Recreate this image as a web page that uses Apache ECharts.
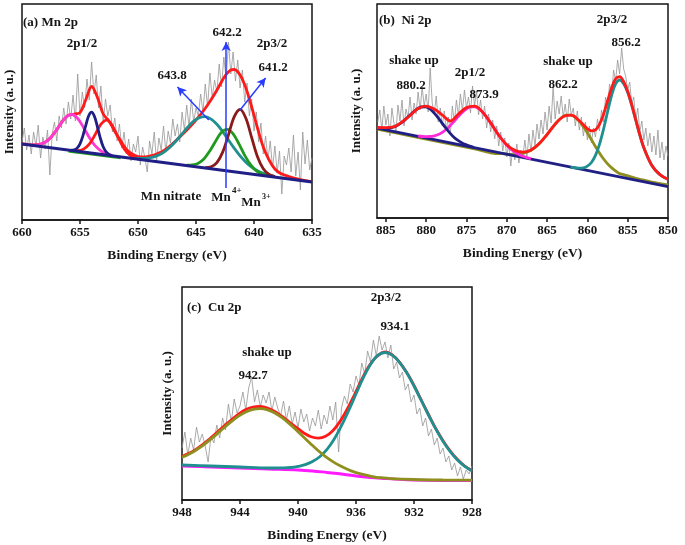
<!DOCTYPE html>
<html>
<head>
<meta charset="utf-8">
<script src="https://cdn.jsdelivr.net/npm/echarts@6.0.0/dist/echarts.min.js"></script>
<style>
html, body { margin: 0; padding: 0; background: #fff; }
#chart { width: 685px; height: 545px; }
</style>
</head>
<body>
<div id="chart"></div>
<script>
// ---- (a) Mn 2p ----  x: binding energy (eV), y: intensity (a.u., arbitrary)
const mnRawStart = 660, mnRawStep = 0.2
const mnRaw = [
  78, 92, 70, 85, 66, 88, 74, 95, 62, 83,
  71, 90, 45, 86, 98, 79, 104, 92, 112, 96,
  118, 101, 125, 99, 146, 104, 128, 112, 141, 120,
  158, 126, 145, 112, 134, 97, 121, 104, 115, 88,
  102, 79, 96, 72, 88, 66, 81, 59, 76, 68,
  84, 55, 73, 62, 48, 79, 66, 88, 58, 82,
  70, 94, 68, 89, 77, 101, 84, 96, 78, 108,
  90, 115, 93, 121, 98, 112, 104, 126, 108, 136,
  113, 147, 122, 140, 128, 156, 133, 163, 141, 178,
  146, 168, 139, 160, 132, 150, 118, 137, 104, 121,
  89, 108, 78, 97, 66, 84, 60, 79, 52, 74,
  47, 69, 26, 64, 55, 72, 48, 85, 44, 68,
  30, 88, 56, 80, 50, 62
]
const mnBase = [[660, 76], [635, 38]]
const mnBaseGreen = [[656, 68.9], [655, 67.4], [654, 65.9], [653, 64.4], [652, 62.8], [651.5, 62.1]]
const mnPink = [[659.2, 75.1], [658.7, 75.2], [658.2, 76.7], [657.7, 80.4], [657.2, 87.1], [656.7, 95.7], [656.2, 103], [655.7, 105.5],
  [655.2, 101.5], [654.7, 92.6], [654.2, 82.6], [653.7, 74.3], [653.2, 69.1], [652.7, 66.1], [652.2, 64.5]]
const mnNavy = [[655.75, 69.8], [655.5, 70.2], [655.25, 71.9], [655, 76.2], [654.75, 84.2], [654.5, 94.7], [654.25, 104.3], [654, 107.9],
  [653.75, 103.5], [653.5, 93.2], [653.25, 81.9], [653, 73.2], [652.75, 68.1], [652.5, 65.6], [652.25, 64.5]]
const mnRedSmall = [[655.7, 69.5], [655.2, 69.4], [654.7, 70.9], [654.2, 75.9], [653.7, 85.3], [653.2, 95.7], [652.7, 99.9],
  [652.2, 94.1], [651.7, 82.3], [651.2, 71.3], [650.7, 64.9], [650.2, 61.8], [649.7, 60.4]]
const mnNitrate = [[650.2, 61.7], [649.7, 61.5], [649.2, 61.9], [648.7, 62.9], [648.2, 65], [647.7, 68.4], [647.2, 73.2], [646.7, 79.3],
  [646.2, 86.1], [645.7, 93], [645.2, 98.8], [644.7, 102.4], [644.2, 103.3], [643.7, 100.9], [643.2, 95.8], [642.7, 88.4],
  [642.2, 80], [641.7, 71.7], [641.2, 64.1], [640.7, 57.8], [640.2, 52.8], [639.7, 49.2], [639.2, 46.7], [638.7, 44.8], [638.2, 43.5]]
const mn4 = [[645.8, 54.8], [645.3, 55.1], [644.8, 56.8], [644.3, 61.3], [643.8, 69.2], [643.3, 79.1], [642.8, 87.8], [642.3, 90.7],
  [641.8, 86.2], [641.3, 76.1], [640.8, 64.6], [640.3, 55.3], [639.8, 49.2], [639.3, 45.9], [638.8, 44.2]]
const mn3 = [[644.2, 52.4], [643.7, 53.2], [643.2, 57.4], [642.7, 67.9], [642.2, 85.3], [641.7, 103.3], [641.2, 110.7],
  [640.7, 101.8], [640.2, 82.3], [639.7, 63.3], [639.2, 51.3], [638.7, 45.6], [638.2, 43.3]]
const mnFit = [[660, 76], [659.5, 75.4], [659, 75.1], [658.5, 75.6], [658, 77.9], [657.5, 82.8], [657, 90.4], [656.5, 99],
  [656, 104.8], [655.5, 106], [655, 107.4], [654.5, 120.3], [654, 133.5], [653.5, 122.6], [653, 106], [652.5, 99],
  [652, 88.5], [651.5, 79.5], [651, 70.5], [650.5, 66], [650, 63.5], [649.5, 63], [649, 64], [648.5, 65.5], [648, 68],
  [647.5, 71.5], [647, 76.5], [646.5, 82], [646, 87.5], [645.5, 93.5], [645, 100], [644.5, 107], [644, 115], [643.5, 124],
  [643, 134], [642.5, 144], [642, 150], [641.7, 150.5], [641.2, 145], [640.7, 132], [640.2, 113], [639.7, 92], [639.2, 73],
  [638.7, 60], [638.2, 51], [637.7, 46.5], [637, 43.5], [636, 40.5], [635, 38.3]]
const mnArrows = [[[643.9, 100], [646.6, 133]], [[642.4, 32], [642.4, 178]], [[641.2, 110], [639.0, 142]]]

// ---- (b) Ni 2p ----
const niRawStart = 886, niRawStep = 0.25
const niRaw = [
  96, 108, 88, 112, 93, 104, 82, 110, 95, 86,
  113, 97, 118, 92, 109, 100, 121, 98, 115, 104,
  126, 108, 131, 112, 124, 106, 150, 115, 104, 122,
  96, 110, 92, 107, 88, 101, 84, 112, 95, 118,
  102, 124, 107, 128, 110, 121, 105, 132, 112, 127,
  103, 118, 99, 112, 90, 104, 86, 98, 79, 92,
  72, 86, 67, 80, 61, 75, 52, 70, 58, 74,
  55, 68, 62, 78, 60, 84, 66, 88, 72, 94,
  79, 98, 84, 106, 88, 112, 95, 131, 99, 117,
  104, 122, 101, 114, 96, 119, 103, 110, 92, 107,
  88, 101, 82, 96, 78, 92, 75, 90, 81, 99,
  87, 108, 96, 121, 109, 134, 122, 148, 137, 158,
  144, 170, 149, 142, 128, 136, 114, 121, 98, 110,
  86, 97, 78, 90, 72, 85, 66, 82, 63, 88,
  60, 76, 58, 72, 62
]
const niBase = [[886.1, 89.9], [850, 31.3]]
const niNavy = [[886.1, 90.2], [885.6, 89.8], [885.1, 89.7], [884.6, 90], [884.1, 90.9], [883.6, 92.5], [883.1, 95.1], [882.6, 98.4],
  [882.1, 102.2], [881.6, 106], [881.1, 109.1], [880.6, 111], [880.1, 111.1], [879.6, 109.3], [879.1, 105.8], [878.6, 101.1],
  [878.1, 95.7], [877.6, 90.3], [877.1, 85.4], [876.6, 81.1], [876.1, 77.8], [875.6, 75.3], [875.1, 73.4], [874.6, 71.9], [874.1, 70.7]]
const niPink = [[881, 82], [880.5, 81.5], [880, 81.4], [879.5, 81.5], [879, 82.2], [878.5, 83.5], [878, 85.7], [877.5, 88.8],
  [877, 92.6], [876.5, 97], [876, 101.6], [875.5, 105.8], [875, 109.2], [874.5, 111.1], [874, 111.2], [873.5, 109.5],
  [873, 105.9], [872.5, 100.9], [872, 95.1], [871.5, 88.9], [871, 82.9], [870.5, 77.5], [870, 72.7], [869.5, 68.9],
  [869, 66], [868.5, 63.6], [868, 61.9], [867.5, 60.4], [867, 59.3]]
const niShake = [[886.1, 88.9], [882, 82.2], [878, 75.7], [874, 69.2], [871, 64.4], [870.6, 64.5], [870.1, 64], [869.6, 63.6],
  [869.1, 63.4], [868.6, 63.8], [868.1, 64.3], [867.6, 65.5], [867.1, 67.2], [866.6, 69.8], [866.1, 73.3], [865.6, 77.6],
  [865.1, 82.5], [864.6, 87.8], [864.1, 92.9], [863.6, 97.4], [863.1, 100.9], [862.6, 102.8], [862.1, 102.9], [861.6, 101.2],
  [861.1, 97.6], [860.6, 92.5], [860.1, 86.4], [859.6, 79.7], [859.1, 72.8], [858.6, 66.3], [858.1, 60.3], [857.6, 55.2],
  [857.1, 51], [856.6, 47.6], [856.1, 44.8], [855.6, 43.6], [855.1, 42.3], [854.6, 41.1], [854.1, 40], [853.6, 39], [852, 36], [850, 33]]
const niMain = [[862.1, 50.9], [861, 49.8], [860.5, 50.1], [860, 51.8], [859.5, 55.5], [859, 62.6], [858.5, 73.7], [858, 88.7],
  [857.5, 106.1], [857, 122.5], [856.5, 134.1], [856, 138], [855.5, 134.2], [855, 125.4], [854.5, 112.6], [854, 97.8],
  [853.5, 83], [853, 70.2], [852.5, 60.4], [852, 52.5], [851.5, 47.2], [851, 43.4], [850.5, 40.6], [850, 38.8]]
const niFit = [[886.1, 90.5], [885, 90.3], [884, 91.2], [883, 96], [882, 102.5], [881, 109.5], [880.1, 111.8], [879, 109],
  [878, 103], [877, 97], [876, 104], [875, 110.4], [874, 111.8], [873, 105.9], [872, 95.1], [871, 82.9], [870, 73.2],
  [869, 67.6], [868, 65.9], [867, 68.1], [866, 74.2], [865, 83.5], [864, 93.8], [863, 101.4], [862, 102.8], [861, 97.3],
  [860, 89.3], [859.5, 87.1], [859, 88.1], [858.5, 93.6], [858, 103.7], [857.5, 117], [857, 130], [856.5, 139.2],
  [856, 141.3], [855.5, 136.3], [855, 126.8], [854.5, 113.4], [854, 98.3], [853.5, 83.5], [853, 70.4], [852, 52.5],
  [851, 43.4], [850, 38.8]]

// ---- (c) Cu 2p ----
const cuRawStart = 948, cuRawStep = 0.2
const cuRaw = [
  52, 68, 45, 62, 50, 73, 58, 66, 54, 38,
  64, 57, 75, 62, 82, 70, 96, 78, 101, 87,
  94, 108, 90, 112, 123, 98, 110, 93, 105, 97,
  108, 89, 103, 92, 84, 99, 80, 94, 76, 88,
  72, 91, 78, 86, 69, 82, 74, 90, 71, 85,
  76, 94, 80, 98, 48, 92, 104, 96, 116, 108,
  124, 115, 137, 126, 149, 138, 160, 144, 164, 150,
  158, 142, 155, 131, 138, 122, 128, 110, 116, 98,
  105, 86, 92, 74, 82, 64, 71, 55, 62, 46,
  52, 38, 44, 30, 37, 24, 33, 21, 30, 26,
  34
]
const cuBase = [[948, 34], [946, 33], [944, 32], [942, 31], [940, 30], [939, 29], [938, 27.5], [937, 26], [936, 24],
  [935, 22.5], [934, 21.5], [933, 20.6], [932, 20], [930, 19.5], [928, 19.3]]
const cuMain = [[948, 35], [946, 34], [944, 33], [942, 32], [941, 32.1], [940.5, 32.5], [940, 33.6], [939.5, 35.3], [939, 38.4],
  [938.5, 43.2], [938, 50.6], [937.5, 61], [937, 74.3], [936.5, 89.6], [936, 106.1], [935.5, 122.2], [935, 135.6],
  [934.5, 144.6], [934, 147.5], [933.5, 144.8], [933, 137.7], [932.5, 127.2], [932, 114], [931.5, 99.6], [931, 85],
  [930.5, 71.1], [930, 58.8], [929.5, 48.4], [929, 40], [928.5, 33.7], [928, 29.1]]
const cuShake = [[948, 42.7], [947.6, 45.3], [947.1, 49.3], [946.6, 54.1], [946.1, 59.8], [945.6, 65.9], [945.1, 72.3],
  [944.6, 78.4], [944.1, 83.8], [943.6, 88], [943.1, 90.6], [942.6, 91.3], [942.1, 90.1], [941.6, 87], [941.1, 82.3],
  [940.6, 76.4], [940.1, 69.8], [939.6, 62.7], [939.1, 55.8], [938.6, 49.2], [938.1, 43.4], [937.6, 38.4], [937.1, 34.3],
  [936.6, 30.8], [936.1, 27.9], [935.6, 25.8], [935.1, 24.2], [934.6, 22.7], [934.1, 22.1], [933.6, 21.4], [932, 20.5],
  [930, 20], [928, 19.8]]
const cuFit = [[948, 43.5], [947.1, 50], [946.1, 61], [945.1, 74], [944.1, 86], [943.6, 90.5], [943.1, 93], [942.6, 93.5],
  [942.1, 92], [941.6, 88.5], [941.1, 83.5], [940.6, 78], [940.1, 72.5], [939.6, 67], [939.1, 63.3], [938.6, 61.9],
  [938.1, 63.7], [937.6, 69.2], [937.1, 78.6], [936.6, 91], [936.1, 105.5], [935.6, 120.6], [935.1, 133.9], [934.6, 143],
  [934, 148], [933.5, 145.1], [933, 137.9], [932.5, 127.4], [932, 114.5], [931.5, 100], [931, 85.5], [930.5, 71.5],
  [930, 59.3], [929.5, 49], [929, 40.5], [928.5, 34], [928, 29.6]]

const FONT = 'Liberation Serif'
const INK = '#151515'

function raw(start, step, ys) {
  return ys.map((y, i) => [+(start - i * step).toFixed(2), y])
}

function gray(idx, data) {
  return { type: 'line', xAxisIndex: idx, yAxisIndex: idx, data, symbol: 'none', silent: true,
    lineStyle: { color: '#969696', width: 0.8 }, z: 1 }
}
function curve(idx, data, color, z) {
  return { type: 'line', xAxisIndex: idx, yAxisIndex: idx, data, symbol: 'none', smooth: 0.35, silent: true,
    lineStyle: { color, width: 2.8 }, z: z || 3 }
}

function xAxis(idx, min, max, interval) {
  return {
    type: 'value', gridIndex: idx, inverse: true, min, max, interval,
    axisLine: { show: true, lineStyle: { color: INK, width: 1.5 } },
    axisTick: { show: true, inside: false, length: 4, lineStyle: { color: INK, width: 1.5 } },
    axisLabel: { color: INK, fontFamily: FONT, fontWeight: 'bold', fontSize: 13, margin: 6, showMaxLabel: idx !== 1 },
    splitLine: { show: false },
    name: 'Binding Energy (eV)', nameLocation: 'middle', nameGap: 29,
    nameTextStyle: { color: INK, fontFamily: FONT, fontWeight: 'bold', fontSize: 13.5 }
  }
}
function yAxis(idx, max, gap) {
  return {
    type: 'value', gridIndex: idx, min: 0, max,
    axisLine: { show: false }, axisTick: { show: false }, axisLabel: { show: false }, splitLine: { show: false },
    name: 'Intensity (a. u.)', nameLocation: 'middle', nameGap: gap,
    nameTextStyle: { color: INK, fontFamily: FONT, fontWeight: 'bold', fontSize: 13 }
  }
}

// annotation texts: [text, x, y, align, size]
const notes = [
  ['(a) Mn 2p', 23, 23, 'left'], ['2p1/2', 82, 44], ['642.2', 227, 33], ['2p3/2', 272, 44], ['641.2', 273, 68],
  ['643.8', 172, 76], ['Mn nitrate', 171, 197], ['Mn', 221, 198], ['4+', 232, 191, 'left', 9], ['Mn', 251, 203],
  ['3+', 262, 197, 'left', 8],
  ['(b)  Ni 2p', 379, 21, 'left'], ['2p3/2', 612, 20], ['856.2', 626, 43], ['shake up', 414, 61], ['2p1/2', 470, 73],
  ['880.2', 411, 86], ['873.9', 484, 95], ['shake up', 568, 62], ['862.2', 563, 85],
  ['(c)  Cu 2p', 187, 308, 'left'], ['2p3/2', 386, 298], ['934.1', 395, 327], ['shake up', 267, 353], ['942.7', 253, 376]
]

const chart = echarts.init(document.getElementById('chart'))
const frame = { show: true, borderColor: INK, borderWidth: 1.5 }

const mnBaseSeries = curve(0, mnBase, '#1f1f85', 4)
mnBaseSeries.markLine = {
  silent: true, animation: false, symbol: ['none', 'arrow'], symbolSize: [7, 9],
  label: { show: false }, lineStyle: { color: '#2a3cff', width: 1.5, type: 'solid' },
  data: mnArrows.map(a => [{ coord: a[0] }, { coord: a[1] }])
}

chart.setOption({
  animation: false,
  backgroundColor: '#fff',
  grid: [
    Object.assign({ left: 22, top: 4, width: 290, height: 216 }, frame),
    Object.assign({ left: 377, top: 4, width: 291, height: 214 }, frame),
    Object.assign({ left: 182, top: 287, width: 290, height: 213 }, frame)
  ],
  xAxis: [xAxis(0, 635, 660, 5), xAxis(1, 850, 886.1, 5), xAxis(2, 928, 948, 4)],
  yAxis: [yAxis(0, 216, 6), yAxis(1, 214, 14), yAxis(2, 213, 8)],
  series: [
    gray(0, raw(mnRawStart, mnRawStep, mnRaw)),
    curve(0, mnFit, '#ff1a1a', 2),
    curve(0, mnBaseGreen, '#1f9a1f'),
    mnBaseSeries,
    curve(0, mnPink, '#ff3ad2'),
    curve(0, mnRedSmall, '#ff1a1a'),
    curve(0, mnNavy, '#1f1f85'),
    curve(0, mnNitrate, '#1f8f8f'),
    curve(0, mn4, '#1f9a1f'),
    curve(0, mn3, '#8b1a1a'),

    gray(1, raw(niRawStart, niRawStep, niRaw)),
    curve(1, niShake, '#8f8f1f'),
    curve(1, niBase, '#1f1f85'),
    curve(1, niPink, '#ff2ad8'),
    curve(1, niNavy, '#1f1f85'),
    curve(1, niMain, '#1f8f8f'),
    curve(1, niFit, '#ff1a1a', 5),

    gray(2, raw(cuRawStart, cuRawStep, cuRaw)),
    curve(2, cuBase, '#ff1aff'),
    curve(2, cuMain, '#1f8f8f'),
    curve(2, cuFit, '#ff1a1a', 2),
    curve(2, cuShake, '#8f8f1f')
  ],
  graphic: notes.map(n => ({
    type: 'text', x: n[1], y: n[2], z: 100, silent: true,
    style: { text: n[0], fill: INK, font: 'bold ' + (n[4] || 13) + 'px "' + FONT + '"',
      align: n[3] || 'center', verticalAlign: 'middle' }
  }))
})
</script>
</body>
</html>
